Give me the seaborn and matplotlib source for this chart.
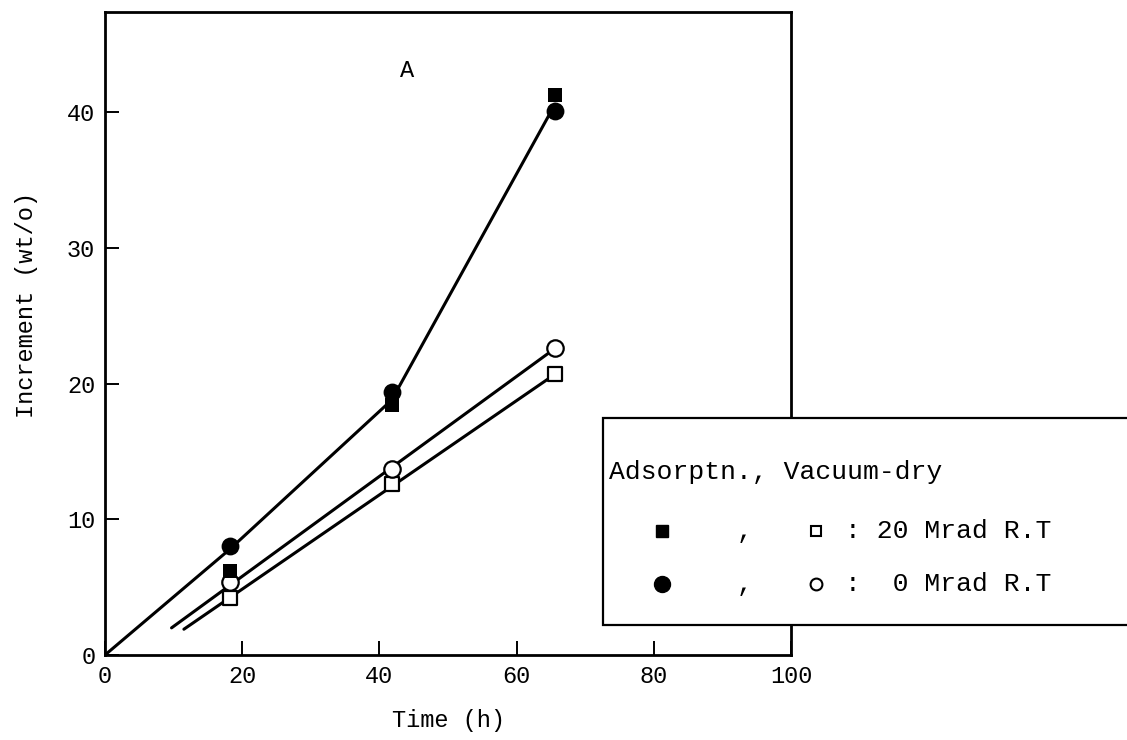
import matplotlib
matplotlib.use("Agg")
import matplotlib.pyplot as plt
from matplotlib.patches import Rectangle
from matplotlib.lines import Line2D
import seaborn as sns
import pandas as pd

# ---- data ----
time_h = [18.2, 41.8, 65.6]
ads_20 = [6.2, 18.4, 41.3]     # filled square
ads_0 = [8.0, 19.4, 40.1]      # filled circle
vac_20 = [4.2, 12.6, 20.7]     # open square
vac_0 = [5.4, 13.7, 22.6]      # open circle

ads_line_x = [0, 18.2, 41.8, 65.6]
ads_line_y = [0, 7.8, 18.8, 40.6]
vac0_line_x = [9.7, 65.6]
vac0_line_y = [2.0, 22.6]
vac20_line_x = [11.5, 65.6]
vac20_line_y = [1.9, 20.7]

x_ticks = [20, 40, 60, 80, 100]
y_ticks = [0, 10, 20, 30, 40]

sns.set_theme(style="white")
FONT = ["Liberation Mono", "DejaVu Sans Mono"]
plt.rcParams["font.family"] = FONT

W, H = 1127, 740
fig = plt.figure(figsize=(W / 100, H / 100), dpi=100)
ax = fig.add_axes([105 / W, 1 - 655 / H, (791 - 105) / W, (655 - 12) / H])

lw = 2.2
for lx, ly in [(ads_line_x, ads_line_y), (vac0_line_x, vac0_line_y), (vac20_line_x, vac20_line_y)]:
    d = pd.DataFrame({"x": lx, "y": ly})
    sns.lineplot(data=d, x="x", y="y", ax=ax, color="black", lw=lw, sort=False,
                 estimator=None, zorder=2)

def pts(y):
    return pd.DataFrame({"x": time_h, "y": y})

sns.scatterplot(data=pts(vac_20), x="x", y="y", ax=ax, marker="s", s=95,
                facecolor="white", edgecolor="black", linewidth=1.6, zorder=3)
sns.scatterplot(data=pts(vac_0), x="x", y="y", ax=ax, marker="o", s=140,
                facecolor="white", edgecolor="black", linewidth=1.6, zorder=3)
sns.scatterplot(data=pts(ads_20), x="x", y="y", ax=ax, marker="s", s=95,
                color="black", edgecolor="black", linewidth=0, zorder=4)
sns.scatterplot(data=pts(ads_0), x="x", y="y", ax=ax, marker="o", s=165,
                color="black", edgecolor="black", linewidth=0, zorder=4)

ax.set_xlim(0, 100)
ax.set_ylim(0, 47.4)
ax.set_xticks([0] + x_ticks)
ax.set_xticklabels(["0"] + [str(t) for t in x_ticks])
ax.set_yticks(y_ticks)
ax.set_yticklabels([str(t) for t in y_ticks])
ax.tick_params(axis="both", direction="in", length=10, width=1.4, labelsize=17,
               colors="black", pad=7, bottom=True, left=True)
for s in ax.spines.values():
    s.set_visible(True)
    s.set_color("black")
    s.set_linewidth(2.0)
ax.set_xlabel("Time (h)", fontsize=17, color="black")
ax.set_ylabel("Increment (wt/o)", fontsize=17, color="black")
ax.xaxis.set_label_coords(0.5, -(720 - 655) / 643, transform=ax.transAxes)
ax.yaxis.set_label_coords(-(105 - 27) / 686, (655 - 305) / 643, transform=ax.transAxes)
ax.xaxis.label.set_va("center")
ax.yaxis.label.set_va("center")
ax.text(44, 43.1, "A", fontsize=17, ha="center", va="center", color="black")

# ---- legend box (figure pixel coords) ----
def fx(px):
    return px / W

def fy(py):
    return 1 - py / H

box = Rectangle((fx(603), fy(625)), fx(1140) - fx(603), fy(418) - fy(625),
                transform=fig.transFigure, facecolor="white", edgecolor="black",
                linewidth=1.6, zorder=10, clip_on=False)
fig.add_artist(box)
fs = 19
fig.text(fx(609), fy(472), "Adsorptn., Vacuum-dry", fontsize=fs, va="center",
         ha="left", zorder=11, color="black")
rows = [(531, "s", "s", ": 20 Mrad R.T", 8.6, 7.2),
        (584, "o", "o", ":  0 Mrad R.T", 11.5, 8.5)]
for py, m1, m2, label, ms1, ms2 in rows:
    fig.add_artist(Line2D([fx(662)], [fy(py)], marker=m1, ms=ms1, color="black",
                          mfc="black", mec="black", ls="none", transform=fig.transFigure,
                          zorder=11))
    fig.add_artist(Line2D([fx(816)], [fy(py)], marker=m2, ms=ms2, color="black",
                          mfc="white", mec="black", mew=1.5, ls="none",
                          transform=fig.transFigure, zorder=11))
    fig.text(fx(745), fy(py), ",", fontsize=fs, va="center", ha="center", zorder=11,
             color="black")
    fig.text(fx(845), fy(py), label, fontsize=fs, va="center", ha="left", zorder=11,
             color="black")

fig.savefig("out.png", dpi=100, facecolor="white")
